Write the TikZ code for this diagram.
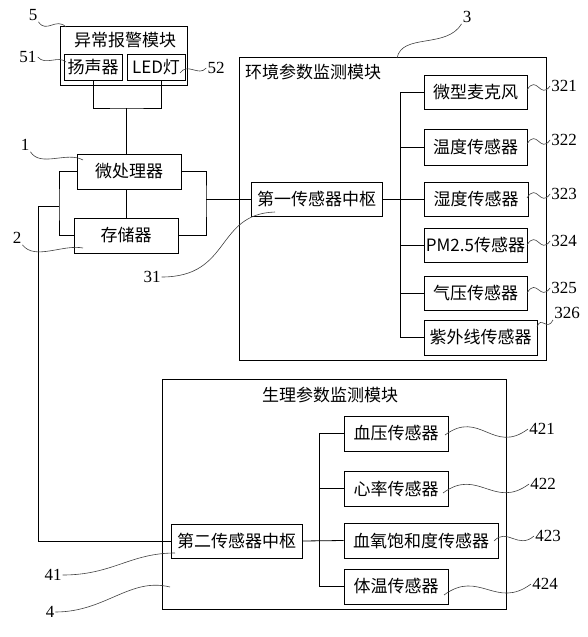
\documentclass[tikz,border=0pt]{standalone}
\usepackage{fontspec}
\setmainfont{Liberation Serif}
\newfontfamily\cjk{Noto Sans CJK SC}
\begin{document}
\begin{tikzpicture}[x=1pt,y=-1pt,
  box/.style={draw, line width=0.8pt, inner sep=0pt, font=\cjk\fontsize{17}{20}\selectfont},
  ttl/.style={inner sep=0pt, font=\cjk\fontsize{17}{20}\selectfont},
  wire/.style={line width=0.8pt},
  lead/.style={line width=0.6pt, black!75},
  num/.style={inner sep=1pt, font=\rmfamily\fontsize{17}{20}\selectfont}]
\useasboundingbox (0,0) rectangle (587,637);
% module boxes
\node[box, minimum width=127, minimum height=59] (alarm) at (123.5,55.5) {};
\node[ttl] (alarmt) at (125,40) {异常报警模块};
\node[box, minimum width=58, minimum height=26] (spk) at (93,67) {扬声器};
\node[box, minimum width=58, minimum height=26] (led) at (156,67) {LED灯};
\node[box, minimum width=104, minimum height=35] (mcu) at (129,171.5) {微处理器};
\node[box, minimum width=104, minimum height=35] (mem) at (126,235.5) {存储器};
\node[box, minimum width=307, minimum height=303] (env) at (392.5,208.5) {};
\node[ttl, anchor=west] (envt) at (245,72) {环境参数监测模块};
\node[box, minimum width=131, minimum height=34] (hub1) at (316.5,199) {第一传感器中枢};
\node[box, minimum width=103, minimum height=34] (s321) at (475.5,92) {微型麦克风};
\node[box, minimum width=103, minimum height=36] (s322) at (475.5,147) {温度传感器};
\node[box, minimum width=104, minimum height=34] (s323) at (476,199) {湿度传感器};
\node[box, minimum width=103, minimum height=34] (s324) at (475.5,245) {PM2.5传感器};
\node[box, minimum width=103, minimum height=34] (s325) at (475.5,293) {气压传感器};
\node[box, minimum width=113, minimum height=35] (s326) at (480.5,337.5) {紫外线传感器};
\node[box, minimum width=344, minimum height=230] (phys) at (334,494) {};
\node[ttl] (physt) at (330,395) {生理参数监测模块};
\node[box, minimum width=131, minimum height=34] (hub2) at (236.5,541) {第二传感器中枢};
\node[box, minimum width=104, minimum height=35] (s421) at (396,433.5) {血压传感器};
\node[box, minimum width=104, minimum height=35] (s422) at (396,488.5) {心率传感器};
\node[box, minimum width=154, minimum height=35] (s423) at (421,540.5) {血氧饱和度传感器};
\node[box, minimum width=104, minimum height=35] (s424) at (396,586.5) {体温传感器};
% wires
\coordinate (j5) at (126,108);
\draw[wire] (spk.south) |- (j5) -| ([xshift=5]led.south);
\draw[wire] (j5) -- (j5 |- mcu.north);
\draw[wire] (mem.north) -- (mem.north |- mcu.south);
\coordinate (jl) at (59,206);
\coordinate (jr) at (206,199);
\draw[wire] (mcu.west) -| (jl) |- (mem.west);
\draw[wire] (mcu.east) -| (jr) |- (mem.east);
\draw[wire] (jr) -- (hub1.west);
\draw[wire] (jl) -- (38,206) |- (hub2.west);
\coordinate (b1) at (400,0);
\draw[wire] (hub1.east) -- (s323.west);
\draw[wire] (s321.west) -| (b1 |- s326.west) -- (s326.west);
\foreach \s in {s322,s324,s325} \draw[wire] (\s.west) -- (\s.west -| b1);
\coordinate (b2) at (319,0);
\draw[wire] (hub2.east) -- (s423.west);
\draw[wire] (s421.west) -| (b2 |- s424.west) -- (s424.west);
\draw[wire] (s422.west) -- (s422.west -| b2);
% reference numbers
\node[num] (n5) at (33,15) {5};
\node[num] (n51) at (28,57) {51};
\node[num] (n52) at (216,68) {52};
\node[num] (n1) at (25,145) {1};
\node[num] (n2) at (17,238) {2};
\node[num] (n31) at (152,277) {31};
\node[num] (n3) at (467,17) {3};
\node[num] (n321) at (564,86) {321};
\node[num] (n322) at (564,140) {322};
\node[num] (n323) at (564,194) {323};
\node[num] (n324) at (564,241) {324};
\node[num] (n325) at (564,288) {325};
\node[num] (n326) at (567,313) {326};
\node[num] (n41) at (53,575) {41};
\node[num] (n4) at (50,612) {4};
\node[num] (n421) at (542,429) {421};
\node[num] (n422) at (543,484) {422};
\node[num] (n423) at (548,536) {423};
\node[num] (n424) at (545,584) {424};
% leader end points
\coordinate (p5) at (66,27);
\coordinate (p51) at (66,62);
\coordinate (p52) at (180,73);
\coordinate (p1) at (83,160);
\coordinate (p2) at (83,248);
\coordinate (p31) at (275,212);
\coordinate (p3) at (397,58);
\coordinate (p321) at (527,90);
\coordinate (p322) at (527,144);
\coordinate (p323) at (527,198);
\coordinate (p324) at (527,245);
\coordinate (p325) at (527,293);
\coordinate (p326) at (537,327);
\coordinate (p41) at (175,553);
\coordinate (p4) at (170,587);
\coordinate (p421) at (445,435);
\coordinate (p422) at (443,493);
\coordinate (p423) at (494,541);
\coordinate (p424) at (444,595);
% leaders
\draw[lead] (n5.south east) .. controls +(8,12) and +(-10,-10) .. (p5);
\draw[lead] (n51.east) .. controls +(8,9) and +(-8,-7) .. (p51);
\draw[lead] (n52.west) .. controls +(-8,9) and +(8,-11) .. (p52);
\draw[lead] (n1.south east) .. controls +(10,16) and +(-16,-9) .. (p1);
\draw[lead] (n2.south east) .. controls +(12,16) and +(-20,-4) .. (p2);
\draw[lead] (n31.east) .. controls +(70,0) and +(-60,2) .. (p31);
\draw[lead] (n3.south west) .. controls +(-15,25) and +(5,-25) .. (p3);
\foreach \k in {321,322,323,324,325}
  \draw[lead] (n\k.west) .. controls +(-10,14) and +(10,-16) .. (p\k);
\draw[lead] (n326.south west) .. controls +(-6,12) and +(4,-12) .. (p326);
\draw[lead] (n41.east) .. controls +(50,0) and +(-45,0) .. (p41);
\draw[lead] (n4.east) .. controls +(50,0) and +(-40,-10) .. (p4);
\foreach \k in {421,422,424}
  \draw[lead] (n\k.west) .. controls +(-35,26) and +(35,-26) .. (p\k);
\draw[lead] (n423.west) .. controls +(-16,14) and +(13,-14) .. (p423);
\end{tikzpicture}
\end{document}
